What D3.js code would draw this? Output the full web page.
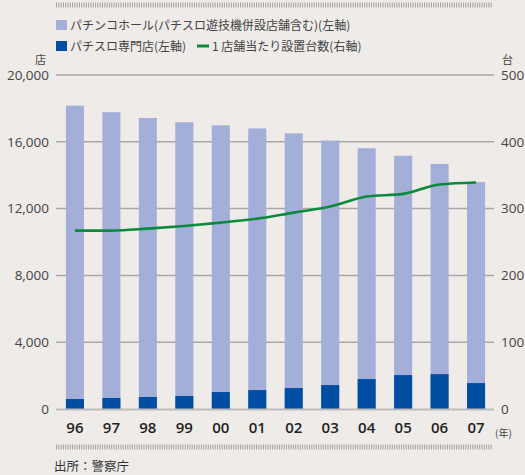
<!DOCTYPE html>
<html><head><meta charset="utf-8">
<script src="https://cdn.jsdelivr.net/npm/d3@7"></script>
<style>
html,body{margin:0;padding:0;background:#efebe8;}
svg{display:block;}
text{font-family:"Noto Sans","Noto Sans CJK JP",sans-serif;}
</style></head>
<body><svg id="c" width="525" height="475"></svg>
<script>
const years = ["96","97","98","99","00","01","02","03","04","05","06","07"];
const hallCounts = [18164,17773,17426,17173,16988,16801,16504,16076,15617,15165,14674,13585];
const slotCounts = [597,660,720,780,1015,1134,1254,1433,1791,2030,2090,1552];
const machinesPerStore = [267,267,270,274,279,285,294,303,318,322,336,339];
const leftTicks = [0,4000,8000,12000,16000,20000];
const rightTicks = [0,100,200,300,400,500];
const legendLabels = ["パチンコホール(パチスロ遊技機併設店舗含む)(左軸)","パチスロ専門店(左軸)","1 店舗当たり設置台数(右軸)"];

const svg = d3.select("#c");
const jp = '"Noto Sans CJK JP",sans-serif';
const x = d3.scaleBand().domain(years).range([56.8,494.2]).paddingInner(0.505).paddingOuter(0.25);
const yL = d3.scaleLinear().domain([0,20000]).range([409,75]);
const yR = d3.scaleLinear().domain([0,500]).range([409,75]);

// dotted rules
function dotted(y){
  svg.append("line").attr("x1",56).attr("x2",492).attr("y1",y).attr("y2",y)
    .attr("stroke","#a3a19f").attr("stroke-width",5).attr("stroke-dasharray","1,1.3");
}
dotted(5); dotted(447);

// legend
const lg = svg.append("g");
lg.append("rect").attr("x",56).attr("y",20).attr("width",11).attr("height",10).attr("fill","#a3afd9");
lg.append("text").attr("x",70).attr("y",29.5).attr("font-size",12).attr("fill","#444").style("font-family",jp).text(legendLabels[0]);
lg.append("rect").attr("x",56).attr("y",41).attr("width",11).attr("height",10).attr("fill","#004ea2");
lg.append("text").attr("x",70).attr("y",50.5).attr("font-size",12).attr("fill","#444").style("font-family",jp).text(legendLabels[1]);
lg.append("line").attr("x1",197).attr("x2",209).attr("y1",46).attr("y2",46).attr("stroke","#0a8a3c").attr("stroke-width",3);
lg.append("text").attr("x",212).attr("y",50.5).attr("font-size",12).attr("fill","#444").style("font-family",jp).text(legendLabels[2]);

// units
svg.append("text").attr("x",46).attr("y",64).attr("text-anchor","end").attr("font-size",11).attr("fill","#444").style("font-family",jp).text("店");
svg.append("text").attr("x",502).attr("y",64).attr("font-size",11).attr("fill","#444").style("font-family",jp).text("台");

// gridlines
svg.append("g").selectAll("line").data(leftTicks.filter(d=>d>0)).join("line")
  .attr("x1",56).attr("x2",494).attr("y1",d=>yL(d)).attr("y2",d=>yL(d))
  .attr("stroke","#a9a7a5").attr("stroke-width",1.5);

// left axis labels
const axL = svg.append("g").attr("transform","translate(56,0)")
  .call(d3.axisLeft(yL).tickValues(leftTicks).tickFormat(d3.format(",")).tickSize(0).tickPadding(7));
axL.select(".domain").remove();
axL.selectAll("text").attr("font-size",13.5).attr("fill","#444").style("font-family",'"Open Sans",sans-serif');
const axR = svg.append("g").attr("transform","translate(494,0)")
  .call(d3.axisRight(yR).tickValues(rightTicks).tickSize(0).tickPadding(7));
axR.select(".domain").remove();
axR.selectAll("text").attr("font-size",13.5).attr("fill","#444").style("font-family",'"Open Sans",sans-serif');

// bars
svg.append("g").selectAll("rect").data(years).join("rect")
  .attr("x",d=>x(d)).attr("width",x.bandwidth())
  .attr("y",(d,i)=>yL(hallCounts[i])).attr("height",(d,i)=>yL(0)-yL(hallCounts[i]))
  .attr("fill","#a3afd9");
svg.append("g").selectAll("rect").data(years).join("rect")
  .attr("x",d=>x(d)).attr("width",x.bandwidth())
  .attr("y",(d,i)=>yL(slotCounts[i])).attr("height",(d,i)=>yL(0)-yL(slotCounts[i]))
  .attr("fill","#004ea2");

// baseline
svg.append("line").attr("x1",56).attr("x2",494).attr("y1",yL(0)+0.5).attr("y2",yL(0)+0.5)
  .attr("stroke","#bdbbb9").attr("stroke-width",2);

// line
const line = d3.line().x((d,i)=>x(years[i])+x.bandwidth()/2).y(d=>yR(d)).curve(d3.curveMonotoneX);
svg.append("path").datum(machinesPerStore).attr("d",line).attr("fill","none")
  .attr("stroke","#0a8a3c").attr("stroke-width",2.6);

// x axis labels
const axX = svg.append("g").attr("transform","translate(0,409)")
  .call(d3.axisBottom(x).tickSize(0).tickPadding(13));
axX.select(".domain").remove();
axX.selectAll("text").attr("font-size",15).attr("font-weight","600").attr("fill","#222").style("font-family",'"Open Sans",sans-serif');
svg.append("text").attr("x",495).attr("y",437).attr("font-size",10).attr("fill","#444").style("font-family",jp).text("(年)");

// source
svg.append("text").attr("x",54).attr("y",471).attr("font-size",12.5).attr("fill","#333").style("font-family",jp).text("出所：警察庁");
</script></body></html>
